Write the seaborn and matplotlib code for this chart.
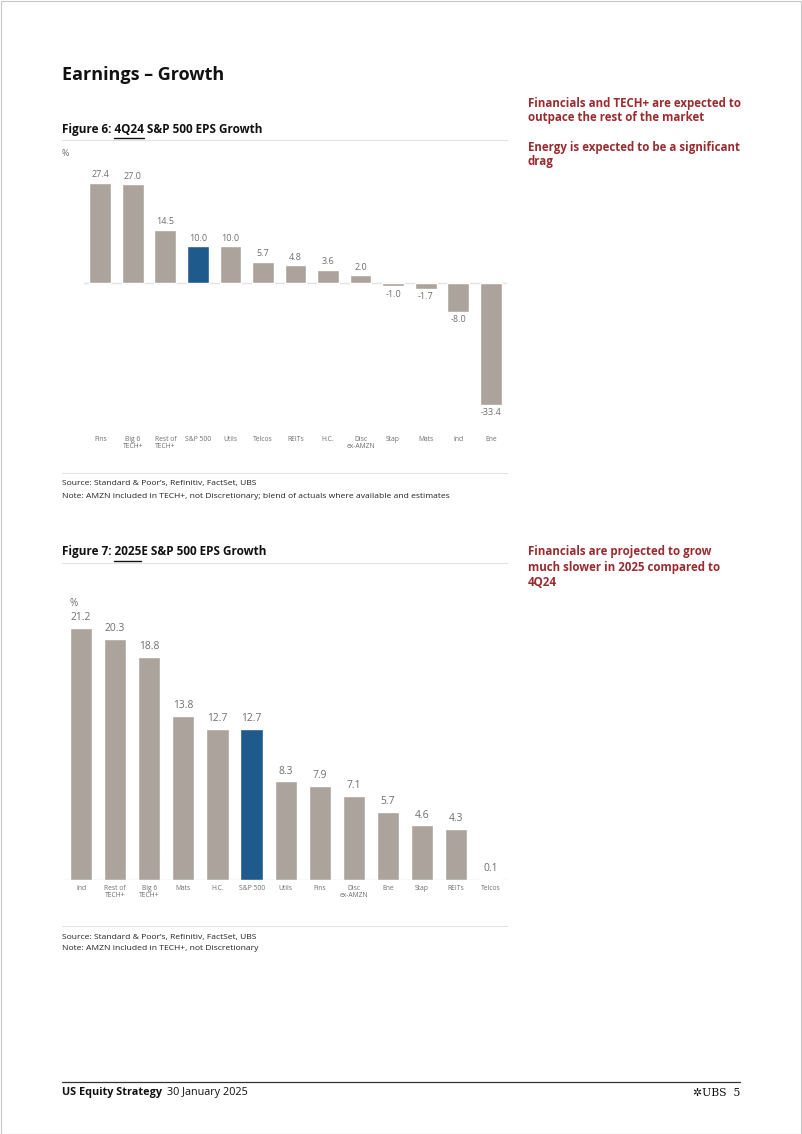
import matplotlib
matplotlib.use("Agg")
import matplotlib.pyplot as plt
import seaborn as sns
import pandas as pd
from matplotlib.patches import Rectangle
from matplotlib.lines import Line2D

# ---------------- data ----------------
cats_4q24 = ["Fins", "Big 6\nTECH+", "Rest of\nTECH+", "S&P 500", "Utils", "Telcos", "REITs",
             "H.C.", "Disc\nex-AMZN", "Stap", "Mats", "Ind", "Ene"]
vals_4q24 = [27.4, 27.0, 14.5, 10.0, 10.0, 5.7, 4.8, 3.6, 2.0, -1.0, -1.7, -8.0, -33.4]

cats_2025 = ["Ind", "Rest of\nTECH+", "Big 6\nTECH+", "Mats", "H.C.", "S&P 500", "Utils", "Fins",
             "Disc\nex-AMZN", "Ene", "Stap", "REITs", "Telcos"]
vals_2025 = [21.2, 20.3, 18.8, 13.8, 12.7, 12.7, 8.3, 7.9, 7.1, 5.7, 4.6, 4.3, 0.1]

highlight = "S&P 500"

# ---------------- style ----------------
sns.set_theme(style="white")
plt.rcParams["font.family"] = ["Open Sans", "DejaVu Sans"]

W, H = 802, 1134
fig = plt.figure(figsize=(W / 100, H / 100), dpi=100)
fig.patch.set_facecolor("white")
renderer = fig.canvas.get_renderer()

GRAY = "#aba39c"
BLUE = "#1f5a8d"
RED = "#9b2b2f"
TXT_GRAY = "#6e6e6e"
LINE_GRAY = "#e3e3e3"


def px_axes(l, t, r, b):
    return fig.add_axes([l / W, 1 - b / H, (r - l) / W, (b - t) / H])


def ftext(x, y, s, **kw):
    kw.setdefault("va", "center")
    return fig.text(x / W, 1 - y / H, s, **kw)


def hline(x0, x1, y, color=LINE_GRAY, lw=0.8):
    fig.add_artist(Line2D([x0 / W, x1 / W], [1 - y / H, 1 - y / H], color=color, lw=lw,
                          transform=fig.transFigure))


def measure(s, **kw):
    t = fig.text(0, 0, s, **kw)
    w = t.get_window_extent(renderer).width
    t.remove()
    return w


def fig_title(x, y, prefix, ul, suffix, size=8.5):
    kw = dict(fontsize=size, fontweight="bold")
    ftext(x, y, prefix + ul + suffix, color="#111111", **kw)
    x0 = x + measure(prefix + "|", **kw) - measure("|", **kw)
    x1 = x + measure(prefix + ul, **kw)
    hline(x0, x1, y + 9, color="#111111", lw=1.0)


def bar_chart(ax, cats, vals, width, pad_tick, xlim, ylim, vsize, vpad):
    df = pd.DataFrame({"cat": cats, "val": vals})
    pal = {c: (BLUE if c == highlight else GRAY) for c in cats}
    sns.barplot(data=df, x="cat", y="val", hue="cat", palette=pal, order=cats,
                hue_order=cats, legend=False, width=width, saturation=1, ax=ax)
    for cont in ax.containers:
        ax.bar_label(cont, fmt="%.1f", padding=vpad, fontsize=vsize, color=TXT_GRAY)
    ax.axhline(0, color=LINE_GRAY, lw=1.0, zorder=0)
    ax.set_xlim(*xlim)
    ax.set_ylim(*ylim)
    ax.set_xlabel("")
    ax.set_ylabel("")
    ax.set_yticks([])
    ax.tick_params(axis="x", length=0, pad=pad_tick, labelsize=4.9, labelcolor=TXT_GRAY)
    for lab in ax.get_xticklabels():
        lab.set_linespacing(1.0)
    for s in ax.spines.values():
        s.set_visible(False)
    ax.patch.set_alpha(0)


# page border
fig.add_artist(Rectangle((0.5 / W, 0.5 / H), (W - 1.5) / W, (H - 1.5) / H, fill=False,
                         edgecolor="#c8c8c8", lw=0.8, transform=fig.transFigure))

# page title
ftext(62, 75, "Earnings – Growth", fontsize=13, fontweight="bold", color="#111111")

# ---------------- Figure 6 ----------------
fig_title(62, 129, "Figure 6: ", "4Q24", " S&P 500 EPS Growth")
hline(62, 507, 140)
ftext(62, 153, "%", fontsize=6.5, color=TXT_GRAY)

ax1 = px_axes(84, 166, 507, 414)
bar_chart(ax1, cats_4q24, vals_4q24, 0.67, 15.5, (-0.5, 12.5), (-36, 32), 6.5, 2.5)

SS = 6.1
hline(62, 507, 473)
ftext(62, 484, "Source: Standard & Poor’s, Refinitiv, FactSet, UBS", fontsize=SS, color="#222222")
ftext(62, 496, "Note: AMZN included in TECH+, not Discretionary; blend of actuals where available and estimates",
      fontsize=SS, color="#222222")

RS = 8.3
ftext(528, 103, "Financials and TECH+ are expected to", fontsize=RS, fontweight="bold", color=RED)
ftext(528, 118, "outpace the rest of the market", fontsize=RS, fontweight="bold", color=RED)
ftext(528, 147, "Energy is expected to be a significant", fontsize=RS, fontweight="bold", color=RED)
ftext(528, 162, "drag", fontsize=RS, fontweight="bold", color=RED)

# ---------------- Figure 7 ----------------
fig_title(62, 552, "Figure 7: ", "2025", "E S&P 500 EPS Growth")
hline(62, 507, 563)
ftext(70, 603, "%", fontsize=7.2, color=TXT_GRAY)

ax2 = px_axes(63, 595, 507, 880)
bar_chart(ax2, cats_2025, vals_2025, 0.65, 3.5, (-0.53, 12.49), (0, 24), 7.4, 3.5)

hline(62, 507, 926)
ftext(62, 938, "Source: Standard & Poor’s, Refinitiv, FactSet, UBS", fontsize=SS, color="#222222")
ftext(62, 949, "Note: AMZN included in TECH+, not Discretionary", fontsize=SS, color="#222222")

ftext(528, 552, "Financials are projected to grow", fontsize=RS, fontweight="bold", color=RED)
ftext(528, 567, "much slower in 2025 compared to", fontsize=RS, fontweight="bold", color=RED)
ftext(528, 582, "4Q24", fontsize=RS, fontweight="bold", color=RED)

# ---------------- footer ----------------
hline(62, 740, 1082, color="#333333", lw=0.9)
wf = measure("US Equity Strategy", fontsize=7.8, fontweight="bold")
ftext(62, 1093, "US Equity Strategy", fontsize=7.8, fontweight="bold", color="#111111")
ftext(62 + wf + 5, 1093, "30 January 2025", fontsize=7.8, color="#111111")
ftext(740, 1093, "✲UBS  5", fontsize=7.8, color="#111111", ha="right",
      family=["DejaVu Serif", "DejaVu Sans"])

fig.savefig("out.png", dpi=100, facecolor="white")
